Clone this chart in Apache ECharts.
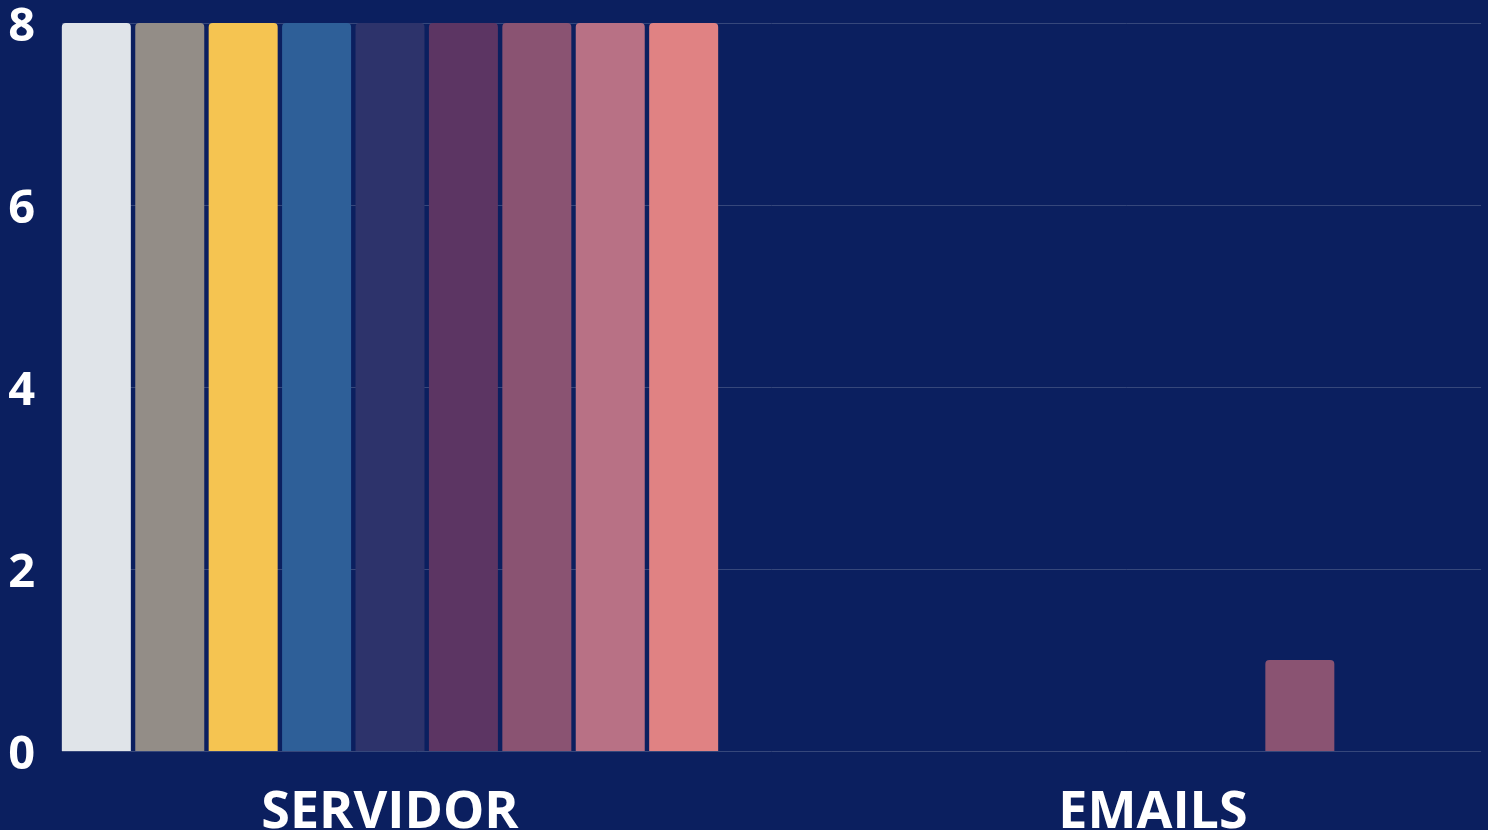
<!DOCTYPE html>
<html>
<head>
<meta charset="utf-8">
<script src="https://cdn.jsdelivr.net/npm/echarts@6/dist/echarts.min.js"></script>
<style>
html,body{margin:0;padding:0;background:#0b1f5f;}
#chart{width:1488px;height:830px;}
</style>
</head>
<body>
<div id="chart"></div>
<script>
const categories = ['SERVIDOR', 'EMAILS'];
const seriesNames = ['Serie 1', 'Serie 2', 'Serie 3', 'Serie 4', 'Serie 5', 'Serie 6', 'Serie 7', 'Serie 8', 'Serie 9'];
const s1 = [8, 0];
const s2 = [8, 0];
const s3 = [8, 0];
const s4 = [8, 0];
const s5 = [8, 0];
const s6 = [8, 0];
const s7 = [8, 1];
const s8 = [8, 0];
const s9 = [8, 0];
const seriesValues = [s1, s2, s3, s4, s5, s6, s7, s8, s9];
const colors = ['#e0e4e9', '#938d87', '#f5c451', '#2e5f98', '#2d336b', '#5c3563', '#8a5372', '#b87185', '#e08283'];
const yTicks = { min: 0, max: 8, interval: 2 };

const FONT = '"Open Sans", sans-serif';
const chart = echarts.init(document.getElementById('chart'));
chart.setOption({
  backgroundColor: '#0b1f5f',
  animation: false,
  grid: [
    { left: 62, right: 7, top: 23, bottom: 79, containLabel: false, outerBoundsMode: 'none' },
    { left: 8.5, width: 1526, top: 23, bottom: 79, containLabel: false, outerBoundsMode: 'none' }
  ],
  xAxis: [
    { gridIndex: 0, type: 'value', show: false, min: 0, max: 1 },
    {
      gridIndex: 1, type: 'category', data: categories,
      axisLine: { show: false }, axisTick: { show: false },
      axisLabel: { color: '#ffffff', fontFamily: FONT, fontWeight: 'bold', fontSize: 52, margin: 36 }
    }
  ],
  yAxis: [
    {
      gridIndex: 0, type: 'value', min: yTicks.min, max: yTicks.max, interval: yTicks.interval,
      axisLine: { show: false }, axisTick: { show: false },
      splitLine: { show: true, lineStyle: { color: '#36477b', width: 1 } },
      axisLabel: {
        margin: 27,
        formatter: '{v|{value}}',
        rich: { v: { color: '#ffffff', fontFamily: FONT, fontWeight: 'bold', fontSize: 47, padding: [10, 0, 0, 0] } }
      }
    },
    {
      gridIndex: 1, type: 'value', min: yTicks.min, max: yTicks.max, interval: yTicks.interval,
      show: false, splitLine: { show: false }
    }
  ],
  series: seriesValues.map((vals, i) => ({
    name: seriesNames[i],
    type: 'bar',
    xAxisIndex: 1,
    yAxisIndex: 1,
    data: vals,
    barWidth: 69,
    barGap: '6.4%',
    itemStyle: { color: colors[i], borderRadius: [4, 4, 0, 0] }
  }))
});
</script>
</body>
</html>
